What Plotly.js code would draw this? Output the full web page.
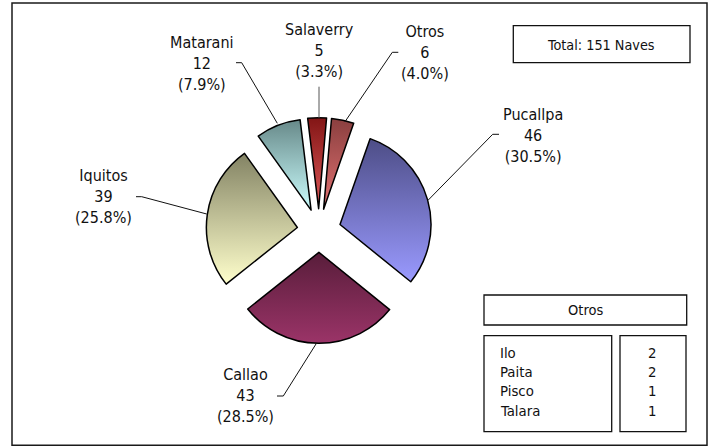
<!DOCTYPE html>
<html>
<head>
<meta charset="utf-8">
<script src="https://cdn.plot.ly/plotly-3.0.1.min.js"></script>
<style>
  html, body { margin: 0; padding: 0; background: #fff; }
  #chart { width: 711px; height: 447px; }
</style>
</head>
<body>
<div id="chart"></div>
<script>
// ---- data ----
var ports = ['Otros', 'Pucallpa', 'Callao', 'Iquitos', 'Matarani', 'Salaverry'];
var naves = [6, 46, 43, 39, 12, 5];
var otrosPorts = ['Ilo', 'Paita', 'Pisco', 'Talara'];
var otrosNaves = [2, 2, 1, 1];
var totalLabel = 'Total';
var unitLabel = 'Naves';

// ---- styling / layout helpers ----
var W = 711, H = 447;
var FONT = 'DejaVu Sans Condensed, DejaVu Sans, sans-serif';
var gradTop = ['#8a3f3f', '#4d4d86', '#581d3a', '#838364', '#678989', '#821515'];
var gradBot = ['#e27272', '#9a9aff', '#9b3468', '#ffffcc', '#ccffff', '#e05a5a'];
var midCol  = ['#b85858', '#7575c4', '#7a2a52', '#c8c8a0', '#9cc6c6', '#b83a3a'];

function px(x) { return x / W; }
function py(y) { return 1 - y / H; }

// label anchor positions (pixel) and leader lines
var labelPos = [[425, 52.7], [533.3, 135.5], [245.7, 395.8], [103.3, 196.7], [201.7, 63], [319.3, 50.5]];
var leaders = [
  [[398.3, 52.3], [392.3, 52.3], [345, 121.7]],
  [[499, 134.3], [492.7, 134.3], [428.3, 200]],
  [[277, 396], [283.3, 396], [316, 344]],
  [[136, 196.7], [141.7, 196.7], [206.7, 214]],
  [[236, 62.7], [241.7, 62.7], [277.3, 123.3]],
  [[319, 86.7], [319, 118]]
];

var total = naves.reduce(function (a, b) { return a + b; }, 0);

var annotations = [];
var shapes = [];

// outer frame
shapes.push({type: 'rect', xref: 'paper', yref: 'paper',
  x0: px(12), x1: px(707), y0: py(445.3), y1: py(3),
  line: {color: '#1a1a1a', width: 1.5}});

ports.forEach(function (p, i) {
  var pct = (naves[i] / total * 100).toFixed(1);
  annotations.push({
    xref: 'paper', yref: 'paper', x: px(labelPos[i][0]), y: py(labelPos[i][1]),
    xanchor: 'center', yanchor: 'middle', showarrow: false, align: 'center',
    text: p + '<br>' + naves[i] + '<br>(' + pct + '%)',
    font: {family: FONT, size: 16, color: '#111'}
  });
  var d = leaders[i].map(function (pt, k) {
    return (k === 0 ? 'M ' : 'L ') + px(pt[0]) + ' ' + py(pt[1]);
  }).join(' ');
  shapes.push({type: 'path', xref: 'paper', yref: 'paper', path: d,
    line: {color: i === 5 ? '#555' : '#111', width: 1}});
});

// total box
shapes.push({type: 'rect', xref: 'paper', yref: 'paper',
  x0: px(513.3), x1: px(690), y0: py(62.7), y1: py(25.7),
  line: {color: '#111', width: 1.3}});
annotations.push({xref: 'paper', yref: 'paper', x: px(601), y: py(45),
  xanchor: 'center', yanchor: 'middle', showarrow: false,
  text: totalLabel + ': ' + total + ' ' + unitLabel,
  font: {family: FONT, size: 14.3, color: '#111'}});

// Otros table
shapes.push({type: 'rect', xref: 'paper', yref: 'paper',
  x0: px(484), x1: px(686.7), y0: py(325), y1: py(295),
  line: {color: '#111', width: 1.3}});
shapes.push({type: 'rect', xref: 'paper', yref: 'paper',
  x0: px(484), x1: px(611.7), y0: py(431.7), y1: py(335.7),
  line: {color: '#111', width: 1.3}});
shapes.push({type: 'rect', xref: 'paper', yref: 'paper',
  x0: px(620), x1: px(686), y0: py(431.7), y1: py(335.7),
  line: {color: '#111', width: 1.3}});
annotations.push({xref: 'paper', yref: 'paper', x: px(585), y: py(310),
  xanchor: 'center', yanchor: 'middle', showarrow: false,
  text: ports[0], font: {family: FONT, size: 14.5, color: '#111'}});
otrosPorts.forEach(function (p, i) {
  var y = 352.3 + i * 19.3;
  annotations.push({xref: 'paper', yref: 'paper', x: px(497.5), y: py(y),
    xanchor: 'left', yanchor: 'middle', showarrow: false,
    text: p, font: {family: FONT, size: 14.8, color: '#111'}});
  annotations.push({xref: 'paper', yref: 'paper', x: px(652), y: py(y),
    xanchor: 'center', yanchor: 'middle', showarrow: false,
    text: String(otrosNaves[i]), font: {family: FONT, size: 14.8, color: '#111'}});
});

// pie geometry: center (319,230.5), r=91, pull 0.24
var pull = 0.24;
var half = 91 * (1 + pull);
var cx = 319, cy = 230.5;

var trace = {
  type: 'pie',
  labels: ports,
  values: naves,
  sort: false,
  direction: 'clockwise',
  rotation: 5,
  pull: ports.map(function () { return pull; }),
  textinfo: 'none',
  hoverinfo: 'label+value+percent',
  marker: {colors: midCol, line: {color: '#000', width: 1.5}},
  domain: {x: [px(cx - half), px(cx + half)], y: [py(cy + half), py(cy - half)]},
  showlegend: false
};

var layout = {
  width: W, height: H,
  margin: {l: 0, r: 0, t: 0, b: 0},
  paper_bgcolor: '#fff',
  plot_bgcolor: '#fff',
  showlegend: false,
  shapes: shapes,
  annotations: annotations
};

Plotly.newPlot('chart', [trace], layout, {displayModeBar: false, staticPlot: true}).then(function (gd) {
  // vertical gradient fills on the slices
  var svg = gd.querySelector('svg.main-svg');
  var ns = 'http://www.w3.org/2000/svg';
  var defs = svg.querySelector('defs') || svg.insertBefore(document.createElementNS(ns, 'defs'), svg.firstChild);
  ports.forEach(function (p, i) {
    var g = document.createElementNS(ns, 'linearGradient');
    g.setAttribute('id', 'sliceGrad' + i);
    g.setAttribute('x1', '0'); g.setAttribute('y1', '0');
    g.setAttribute('x2', '0'); g.setAttribute('y2', '1');
    var s0 = document.createElementNS(ns, 'stop');
    s0.setAttribute('offset', '0'); s0.setAttribute('stop-color', gradTop[i]);
    var s1 = document.createElementNS(ns, 'stop');
    s1.setAttribute('offset', '1'); s1.setAttribute('stop-color', gradBot[i]);
    g.appendChild(s0); g.appendChild(s1);
    defs.appendChild(g);
  });
  var slices = gd.querySelectorAll('g.slice');
  slices.forEach(function (sl) {
    var path = sl.querySelector('path.surface');
    var d = sl.__data__;
    var idx = d && typeof d.i === 'number' ? d.i : Array.prototype.indexOf.call(slices, sl);
    if (path) path.style.fill = 'url(#sliceGrad' + idx + ')';
  });
});
</script>
</body>
</html>
